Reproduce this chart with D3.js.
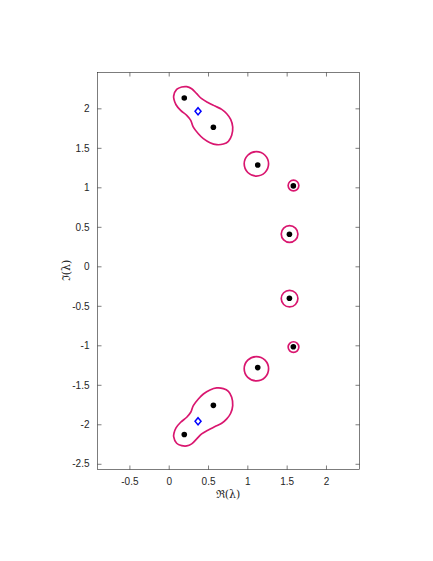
<!DOCTYPE html>
<html><head><meta charset="utf-8">
<script src="https://cdn.jsdelivr.net/npm/d3@7"></script>
<style>body{margin:0;background:#fff}svg{display:block}text{font-family:"Liberation Sans",Arial,sans-serif}</style>
</head><body><svg id="c" width="433" height="561"></svg>
<script>
// eigenvalues (black dots)
const eigRe = [0.198, 0.568, 1.132, 1.585, 1.535, 1.535, 1.585, 1.132, 0.568, 0.198];
const eigIm = [2.13, 1.76, 1.282, 1.018, 0.405, -0.405, -1.018, -1.282, -1.76, -2.13];
// blue diamonds
const diaRe = [0.373, 0.373];
const diaIm = [1.962, -1.962];
// isolated contour circles: centre and radius
const circRe = [1.115, 1.587, 1.537, 1.537, 1.587, 1.115];
const circIm = [1.297, 1.023, 0.409, -0.409, -1.023, -1.297];
const circR  = [0.155, 0.068, 0.106, 0.106, 0.068, 0.155];
// upper blob contour
const blobUpRe = [0.063,0.101,0.165,0.229,0.292,0.356,0.419,0.504,0.589,0.674,0.738,0.788,0.814,0.801,0.759,0.695,0.610,0.525,0.441,0.377,0.313,0.280,0.229,0.152,0.093,0.067];
const blobUpIm = [2.156,2.240,2.270,2.274,2.248,2.185,2.122,2.071,2.029,1.987,1.932,1.860,1.763,1.658,1.582,1.548,1.540,1.565,1.616,1.679,1.763,1.848,1.911,1.974,2.046,2.114];
// lower blob contour
const blobLoRe = [0.063,0.101,0.165,0.229,0.292,0.356,0.419,0.504,0.589,0.674,0.738,0.788,0.814,0.801,0.759,0.695,0.610,0.525,0.441,0.377,0.313,0.280,0.229,0.152,0.093,0.067];
const blobLoIm = [-2.156,-2.240,-2.270,-2.274,-2.248,-2.185,-2.122,-2.071,-2.029,-1.987,-1.932,-1.860,-1.763,-1.658,-1.582,-1.548,-1.540,-1.565,-1.616,-1.679,-1.763,-1.848,-1.911,-1.974,-2.046,-2.114];
const xTicks = [-0.5, 0, 0.5, 1, 1.5, 2];
const yTicks = [-2.5, -2, -1.5, -1, -0.5, 0, 0.5, 1, 1.5, 2];

const L = 97, R = 359, T = 72, B = 469;
const x = d3.scaleLinear([-0.912, 2.42], [L, R]);
const y = d3.scaleLinear([-2.566, 2.46], [B, T]);
const svg = d3.select("#c");
const axCol = "#262626", lineCol = "#d9166f";

const g = svg.append("g");
g.append("rect").attr("x", L+0.5).attr("y", T+0.5).attr("width", R-L).attr("height", B-T)
  .attr("fill", "none").attr("stroke", axCol).attr("stroke-width", 0.6);

const fmt = d => String(d);
const ax = g.append("g").attr("transform", `translate(0,${B+0.5})`)
  .call(d3.axisBottom(x).tickValues(xTicks).tickFormat(fmt).tickSizeInner(-4).tickSizeOuter(0).tickPadding(8));
const axT = g.append("g").attr("transform", `translate(0,${T+0.5})`)
  .call(d3.axisTop(x).tickValues(xTicks).tickFormat("").tickSizeInner(-4).tickSizeOuter(0));
const ay = g.append("g").attr("transform", `translate(${L+0.5},0)`)
  .call(d3.axisLeft(y).tickValues(yTicks).tickFormat(fmt).tickSizeInner(-4).tickSizeOuter(0).tickPadding(8));
const ayR = g.append("g").attr("transform", `translate(${R+0.5},0)`)
  .call(d3.axisRight(y).tickValues(yTicks).tickFormat("").tickSizeInner(-4).tickSizeOuter(0));
[ax, axT, ay, ayR].forEach(a => {
  a.select(".domain").remove();
  a.selectAll("line").attr("stroke", axCol).attr("stroke-width", 0.6);
  a.selectAll("text").attr("fill", axCol).style("font-size", "10px");
});

const clip = svg.append("defs").append("clipPath").attr("id", "clp");
clip.append("rect").attr("x", L).attr("y", T).attr("width", R-L).attr("height", B-T);
const plot = svg.append("g").attr("clip-path", "url(#clp)");
const line = d3.line().x(d => x(d[0])).y(d => y(d[1])).curve(d3.curveCatmullRomClosed.alpha(0.5));
const up = blobUpRe.map((v, i) => [v, blobUpIm[i]]);
const lo = blobLoRe.map((v, i) => [v, blobLoIm[i]]);
[up, lo].forEach(p => plot.append("path").attr("d", line(p)).attr("fill", "none")
  .attr("stroke", lineCol).attr("stroke-width", 1.7));
circRe.forEach((c, i) => plot.append("circle").attr("cx", x(c)).attr("cy", y(circIm[i]))
  .attr("r", x(circR[i]) - x(0)).attr("fill", "none").attr("stroke", lineCol).attr("stroke-width", 1.7));

eigRe.forEach((c, i) => plot.append("circle").attr("cx", x(c)).attr("cy", y(eigIm[i]))
  .attr("r", 2.8).attr("fill", "#000"));
diaRe.forEach((c, i) => plot.append("path")
  .attr("d", "M0,-3.6L3,0L0,3.6L-3,0Z")
  .attr("transform", `translate(${x(c)},${y(diaIm[i])})`)
  .attr("fill", "#fff").attr("stroke", "#0000ff").attr("stroke-width", 1.5));

svg.append("text").attr("x", (L+R)/2).attr("y", 498).attr("text-anchor", "middle")
  .attr("fill", axCol).style("font-size", "11px").style("font-family", "'DejaVu Serif',serif").text("ℜ(λ)");
svg.append("text").attr("transform", `translate(70,${(T+B)/2}) rotate(-90)`).attr("text-anchor", "middle")
  .attr("fill", axCol).style("font-size", "11px").style("font-family", "'DejaVu Serif',serif").text("ℑ(λ)");
</script></body></html>
